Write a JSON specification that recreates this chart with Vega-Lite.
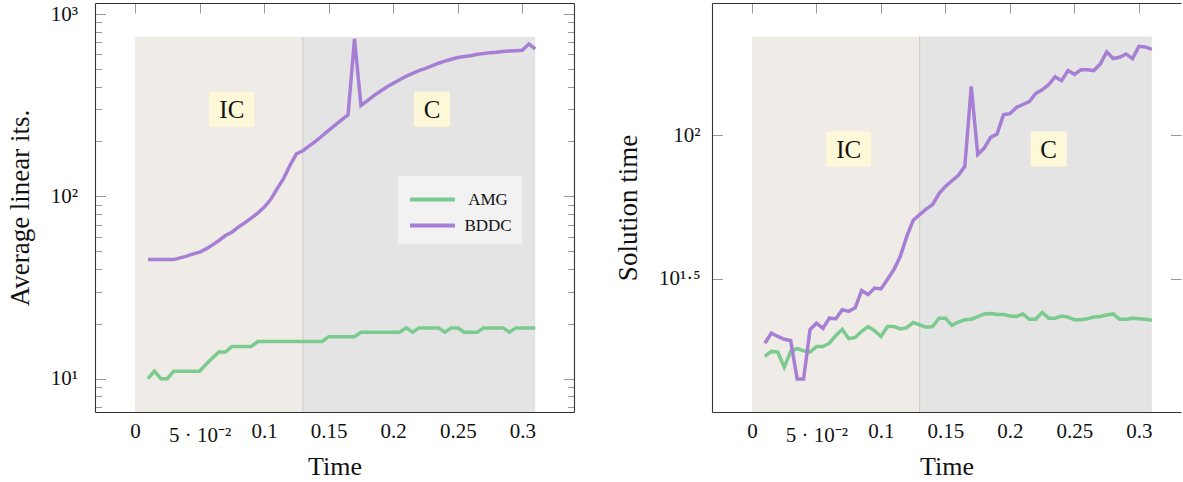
{
  "$schema": "https://vega.github.io/schema/vega-lite/v6.json",
  "padding": {"left": 6, "top": 2, "right": 0, "bottom": 0},
  "autosize": {"type": "pad"},
  "spacing": 39,
  "config": {
    "view": {"stroke": null},
    "font": "Liberation Serif",
    "axis": {"zindex": 1, "grid": false, "domainColor": "#333333", "domainWidth": 1.1, "tickColor": "#999999", "tickWidth": 1, "labelFont": "Liberation Serif", "labelFontSize": 21, "labelColor": "#111111", "titleFont": "Liberation Serif", "titleFontSize": 26, "titleFontWeight": "normal", "titleColor": "#111111", "labelOverlap": false, "labelFlush": false, "labelBound": false},
    "legend": {"orient": "none", "title": null, "fillColor": "#f2f2f2", "padding": 10, "symbolType": "M-2,0H2", "symbolSize": 506, "symbolStrokeWidth": 4, "symbolOffset": 11, "labelFont": "Liberation Serif", "labelFontSize": 17, "labelColor": "#111111", "labelOffset": 42, "labelAlign": "center", "rowPadding": 4}
  },
  "datasets": {
    "regionsL": [
      {"region": "IC", "t0": 0, "t1": 0.13, "top": 748},
      {"region": "C", "t0": 0.13, "t1": 0.31, "top": 748}
    ],
    "regionsR": [
      {"region": "IC", "t0": 0, "t1": 0.13, "top": 221},
      {"region": "C", "t0": 0.13, "t1": 0.31, "top": 221}
    ],
    "labelsL": [
      {"label": "IC", "t": 0.075, "v": 300},
      {"label": "C", "t": 0.23, "v": 300}
    ],
    "labelsR": [
      {"label": "IC", "t": 0.075, "v": 89.7},
      {"label": "C", "t": 0.23, "v": 89.7}
    ],
    "linesL": [
      {"series": "AMG", "t": 0.01, "v": 10}, {"series": "AMG", "t": 0.015, "v": 11}, {"series": "AMG", "t": 0.02, "v": 10}, {"series": "AMG", "t": 0.025, "v": 10},
      {"series": "AMG", "t": 0.03, "v": 11}, {"series": "AMG", "t": 0.035, "v": 11}, {"series": "AMG", "t": 0.04, "v": 11}, {"series": "AMG", "t": 0.045, "v": 11},
      {"series": "AMG", "t": 0.05, "v": 11}, {"series": "AMG", "t": 0.055, "v": 12}, {"series": "AMG", "t": 0.06, "v": 13}, {"series": "AMG", "t": 0.065, "v": 14},
      {"series": "AMG", "t": 0.07, "v": 14}, {"series": "AMG", "t": 0.075, "v": 15}, {"series": "AMG", "t": 0.08, "v": 15}, {"series": "AMG", "t": 0.085, "v": 15},
      {"series": "AMG", "t": 0.09, "v": 15}, {"series": "AMG", "t": 0.095, "v": 16}, {"series": "AMG", "t": 0.1, "v": 16}, {"series": "AMG", "t": 0.105, "v": 16},
      {"series": "AMG", "t": 0.11, "v": 16}, {"series": "AMG", "t": 0.115, "v": 16}, {"series": "AMG", "t": 0.12, "v": 16}, {"series": "AMG", "t": 0.125, "v": 16},
      {"series": "AMG", "t": 0.13, "v": 16}, {"series": "AMG", "t": 0.135, "v": 16}, {"series": "AMG", "t": 0.14, "v": 16}, {"series": "AMG", "t": 0.145, "v": 16},
      {"series": "AMG", "t": 0.15, "v": 17}, {"series": "AMG", "t": 0.155, "v": 17}, {"series": "AMG", "t": 0.16, "v": 17}, {"series": "AMG", "t": 0.165, "v": 17},
      {"series": "AMG", "t": 0.17, "v": 17}, {"series": "AMG", "t": 0.175, "v": 18}, {"series": "AMG", "t": 0.18, "v": 18}, {"series": "AMG", "t": 0.185, "v": 18},
      {"series": "AMG", "t": 0.19, "v": 18}, {"series": "AMG", "t": 0.195, "v": 18}, {"series": "AMG", "t": 0.2, "v": 18}, {"series": "AMG", "t": 0.205, "v": 18},
      {"series": "AMG", "t": 0.21, "v": 19}, {"series": "AMG", "t": 0.215, "v": 18}, {"series": "AMG", "t": 0.22, "v": 19}, {"series": "AMG", "t": 0.225, "v": 19},
      {"series": "AMG", "t": 0.23, "v": 19}, {"series": "AMG", "t": 0.235, "v": 19}, {"series": "AMG", "t": 0.24, "v": 18}, {"series": "AMG", "t": 0.245, "v": 19},
      {"series": "AMG", "t": 0.25, "v": 19}, {"series": "AMG", "t": 0.255, "v": 18}, {"series": "AMG", "t": 0.26, "v": 18}, {"series": "AMG", "t": 0.265, "v": 18},
      {"series": "AMG", "t": 0.27, "v": 19}, {"series": "AMG", "t": 0.275, "v": 19}, {"series": "AMG", "t": 0.28, "v": 19}, {"series": "AMG", "t": 0.285, "v": 19},
      {"series": "AMG", "t": 0.29, "v": 18}, {"series": "AMG", "t": 0.295, "v": 19}, {"series": "AMG", "t": 0.3, "v": 19}, {"series": "AMG", "t": 0.305, "v": 19},
      {"series": "AMG", "t": 0.31, "v": 19},
      {"series": "BDDC", "t": 0.01, "v": 45}, {"series": "BDDC", "t": 0.015, "v": 45}, {"series": "BDDC", "t": 0.02, "v": 45}, {"series": "BDDC", "t": 0.025, "v": 45},
      {"series": "BDDC", "t": 0.03, "v": 45}, {"series": "BDDC", "t": 0.035, "v": 46}, {"series": "BDDC", "t": 0.04, "v": 47}, {"series": "BDDC", "t": 0.045, "v": 48.4},
      {"series": "BDDC", "t": 0.05, "v": 49.4}, {"series": "BDDC", "t": 0.055, "v": 51.5}, {"series": "BDDC", "t": 0.06, "v": 54.2}, {"series": "BDDC", "t": 0.065, "v": 57.3},
      {"series": "BDDC", "t": 0.07, "v": 61}, {"series": "BDDC", "t": 0.075, "v": 63.6}, {"series": "BDDC", "t": 0.08, "v": 67.8}, {"series": "BDDC", "t": 0.085, "v": 71.6},
      {"series": "BDDC", "t": 0.09, "v": 76}, {"series": "BDDC", "t": 0.095, "v": 81}, {"series": "BDDC", "t": 0.1, "v": 87}, {"series": "BDDC", "t": 0.105, "v": 96},
      {"series": "BDDC", "t": 0.11, "v": 110}, {"series": "BDDC", "t": 0.115, "v": 125}, {"series": "BDDC", "t": 0.12, "v": 148}, {"series": "BDDC", "t": 0.125, "v": 171},
      {"series": "BDDC", "t": 0.13, "v": 178}, {"series": "BDDC", "t": 0.135, "v": 189}, {"series": "BDDC", "t": 0.14, "v": 201}, {"series": "BDDC", "t": 0.145, "v": 215},
      {"series": "BDDC", "t": 0.15, "v": 230}, {"series": "BDDC", "t": 0.155, "v": 246}, {"series": "BDDC", "t": 0.16, "v": 263}, {"series": "BDDC", "t": 0.165, "v": 280},
      {"series": "BDDC", "t": 0.17, "v": 730}, {"series": "BDDC", "t": 0.175, "v": 315}, {"series": "BDDC", "t": 0.18, "v": 335}, {"series": "BDDC", "t": 0.185, "v": 357},
      {"series": "BDDC", "t": 0.19, "v": 377}, {"series": "BDDC", "t": 0.195, "v": 398}, {"series": "BDDC", "t": 0.2, "v": 417}, {"series": "BDDC", "t": 0.205, "v": 436},
      {"series": "BDDC", "t": 0.21, "v": 456}, {"series": "BDDC", "t": 0.215, "v": 473}, {"series": "BDDC", "t": 0.22, "v": 489}, {"series": "BDDC", "t": 0.225, "v": 504},
      {"series": "BDDC", "t": 0.23, "v": 519}, {"series": "BDDC", "t": 0.235, "v": 537}, {"series": "BDDC", "t": 0.24, "v": 551}, {"series": "BDDC", "t": 0.245, "v": 565},
      {"series": "BDDC", "t": 0.25, "v": 577}, {"series": "BDDC", "t": 0.255, "v": 584}, {"series": "BDDC", "t": 0.26, "v": 591}, {"series": "BDDC", "t": 0.265, "v": 602},
      {"series": "BDDC", "t": 0.27, "v": 607}, {"series": "BDDC", "t": 0.275, "v": 614}, {"series": "BDDC", "t": 0.28, "v": 617}, {"series": "BDDC", "t": 0.285, "v": 623},
      {"series": "BDDC", "t": 0.29, "v": 626}, {"series": "BDDC", "t": 0.295, "v": 629}, {"series": "BDDC", "t": 0.3, "v": 632}, {"series": "BDDC", "t": 0.305, "v": 685},
      {"series": "BDDC", "t": 0.31, "v": 643}
    ],
    "linesR": [
      {"series": "AMG", "t": 0.01, "v": 17.0}, {"series": "AMG", "t": 0.015, "v": 17.7}, {"series": "AMG", "t": 0.02, "v": 17.6}, {"series": "AMG", "t": 0.025, "v": 15.6},
      {"series": "AMG", "t": 0.03, "v": 17.7}, {"series": "AMG", "t": 0.035, "v": 18.1}, {"series": "AMG", "t": 0.04, "v": 17.8}, {"series": "AMG", "t": 0.045, "v": 17.6},
      {"series": "AMG", "t": 0.05, "v": 18.4}, {"series": "AMG", "t": 0.055, "v": 18.4}, {"series": "AMG", "t": 0.06, "v": 18.9}, {"series": "AMG", "t": 0.065, "v": 20.1},
      {"series": "AMG", "t": 0.07, "v": 21.1}, {"series": "AMG", "t": 0.075, "v": 19.6}, {"series": "AMG", "t": 0.08, "v": 19.8}, {"series": "AMG", "t": 0.085, "v": 20.8},
      {"series": "AMG", "t": 0.09, "v": 21.6}, {"series": "AMG", "t": 0.095, "v": 20.9}, {"series": "AMG", "t": 0.1, "v": 19.95}, {"series": "AMG", "t": 0.105, "v": 21.6},
      {"series": "AMG", "t": 0.11, "v": 21.6}, {"series": "AMG", "t": 0.115, "v": 21.2}, {"series": "AMG", "t": 0.12, "v": 21.4}, {"series": "AMG", "t": 0.125, "v": 22.3},
      {"series": "AMG", "t": 0.13, "v": 21.9}, {"series": "AMG", "t": 0.135, "v": 21.5}, {"series": "AMG", "t": 0.14, "v": 21.6}, {"series": "AMG", "t": 0.145, "v": 23.1},
      {"series": "AMG", "t": 0.15, "v": 23.1}, {"series": "AMG", "t": 0.155, "v": 21.8}, {"series": "AMG", "t": 0.16, "v": 22.4}, {"series": "AMG", "t": 0.165, "v": 22.8},
      {"series": "AMG", "t": 0.17, "v": 22.9}, {"series": "AMG", "t": 0.175, "v": 23.4}, {"series": "AMG", "t": 0.18, "v": 23.9}, {"series": "AMG", "t": 0.185, "v": 24.0},
      {"series": "AMG", "t": 0.19, "v": 23.8}, {"series": "AMG", "t": 0.195, "v": 23.8}, {"series": "AMG", "t": 0.2, "v": 23.5}, {"series": "AMG", "t": 0.205, "v": 23.4},
      {"series": "AMG", "t": 0.21, "v": 23.9}, {"series": "AMG", "t": 0.215, "v": 22.9}, {"series": "AMG", "t": 0.22, "v": 22.9}, {"series": "AMG", "t": 0.225, "v": 24.2},
      {"series": "AMG", "t": 0.23, "v": 23.1}, {"series": "AMG", "t": 0.235, "v": 23.1}, {"series": "AMG", "t": 0.24, "v": 23.5}, {"series": "AMG", "t": 0.245, "v": 23.3},
      {"series": "AMG", "t": 0.25, "v": 22.8}, {"series": "AMG", "t": 0.255, "v": 22.8}, {"series": "AMG", "t": 0.26, "v": 23.0}, {"series": "AMG", "t": 0.265, "v": 23.3},
      {"series": "AMG", "t": 0.27, "v": 23.4}, {"series": "AMG", "t": 0.275, "v": 23.7}, {"series": "AMG", "t": 0.28, "v": 23.9}, {"series": "AMG", "t": 0.285, "v": 22.9},
      {"series": "AMG", "t": 0.29, "v": 22.9}, {"series": "AMG", "t": 0.295, "v": 23.1}, {"series": "AMG", "t": 0.3, "v": 23.0}, {"series": "AMG", "t": 0.305, "v": 22.9},
      {"series": "AMG", "t": 0.31, "v": 22.7},
      {"series": "BDDC", "t": 0.01, "v": 18.9}, {"series": "BDDC", "t": 0.015, "v": 20.5}, {"series": "BDDC", "t": 0.02, "v": 19.95}, {"series": "BDDC", "t": 0.025, "v": 19.5},
      {"series": "BDDC", "t": 0.03, "v": 19.3}, {"series": "BDDC", "t": 0.035, "v": 14.2}, {"series": "BDDC", "t": 0.04, "v": 14.2}, {"series": "BDDC", "t": 0.045, "v": 21.1},
      {"series": "BDDC", "t": 0.05, "v": 22.2}, {"series": "BDDC", "t": 0.055, "v": 21.3}, {"series": "BDDC", "t": 0.06, "v": 23.1}, {"series": "BDDC", "t": 0.065, "v": 23.0},
      {"series": "BDDC", "t": 0.07, "v": 24.7}, {"series": "BDDC", "t": 0.075, "v": 24.4}, {"series": "BDDC", "t": 0.08, "v": 25.1}, {"series": "BDDC", "t": 0.085, "v": 28.8},
      {"series": "BDDC", "t": 0.09, "v": 27.9}, {"series": "BDDC", "t": 0.095, "v": 29.4}, {"series": "BDDC", "t": 0.1, "v": 29.2}, {"series": "BDDC", "t": 0.105, "v": 31.5},
      {"series": "BDDC", "t": 0.11, "v": 34.1}, {"series": "BDDC", "t": 0.115, "v": 37.9}, {"series": "BDDC", "t": 0.12, "v": 44.5}, {"series": "BDDC", "t": 0.125, "v": 50.6},
      {"series": "BDDC", "t": 0.13, "v": 53.0}, {"series": "BDDC", "t": 0.135, "v": 55.4}, {"series": "BDDC", "t": 0.14, "v": 57.4}, {"series": "BDDC", "t": 0.145, "v": 62.7},
      {"series": "BDDC", "t": 0.15, "v": 66.4}, {"series": "BDDC", "t": 0.155, "v": 69.5}, {"series": "BDDC", "t": 0.16, "v": 72.6}, {"series": "BDDC", "t": 0.165, "v": 78},
      {"series": "BDDC", "t": 0.17, "v": 148}, {"series": "BDDC", "t": 0.175, "v": 85.8}, {"series": "BDDC", "t": 0.18, "v": 90.3}, {"series": "BDDC", "t": 0.185, "v": 98.4},
      {"series": "BDDC", "t": 0.19, "v": 101}, {"series": "BDDC", "t": 0.195, "v": 118}, {"series": "BDDC", "t": 0.2, "v": 119}, {"series": "BDDC", "t": 0.205, "v": 125},
      {"series": "BDDC", "t": 0.21, "v": 128}, {"series": "BDDC", "t": 0.215, "v": 131}, {"series": "BDDC", "t": 0.22, "v": 140}, {"series": "BDDC", "t": 0.225, "v": 144},
      {"series": "BDDC", "t": 0.23, "v": 150}, {"series": "BDDC", "t": 0.235, "v": 160}, {"series": "BDDC", "t": 0.24, "v": 155}, {"series": "BDDC", "t": 0.245, "v": 168},
      {"series": "BDDC", "t": 0.25, "v": 163}, {"series": "BDDC", "t": 0.255, "v": 169}, {"series": "BDDC", "t": 0.26, "v": 169}, {"series": "BDDC", "t": 0.265, "v": 168},
      {"series": "BDDC", "t": 0.27, "v": 177}, {"series": "BDDC", "t": 0.275, "v": 195}, {"series": "BDDC", "t": 0.28, "v": 185}, {"series": "BDDC", "t": 0.285, "v": 187},
      {"series": "BDDC", "t": 0.29, "v": 192}, {"series": "BDDC", "t": 0.295, "v": 185}, {"series": "BDDC", "t": 0.3, "v": 204}, {"series": "BDDC", "t": 0.305, "v": 203},
      {"series": "BDDC", "t": 0.31, "v": 199}
    ]
  },
  "hconcat": [
    {
      "width": 479,
      "height": 409,
      "resolve": {"axis": {"x": "independent", "y": "independent"}},
      "layer": [
        {
          "data": {"name": "regionsL"},
          "mark": {"type": "rect"},
          "encoding": {
            "x": {"field": "t0", "type": "quantitative", "scale": {"domain": [-0.031, 0.34], "nice": false, "zero": false},
                  "axis": {"orient": "bottom", "values": [0, 0.05, 0.1, 0.15, 0.2, 0.25, 0.3], "labelExpr": "datum.value == 0.05 ? '5 · 10⁻²' : '' + datum.value", "tickSize": -10, "labelPadding": {"condition": {"test": "datum.value == 0.05", "value": 22}, "value": 18}, "title": "Time", "titlePadding": 8}},
            "x2": {"field": "t1"},
            "y": {"field": "top", "type": "quantitative", "scale": {"type": "log", "domain": [6.57, 1149], "nice": false},
                  "axis": {"orient": "left", "values": [7, 8, 9, 10, 20, 30, 40, 50, 60, 70, 80, 90, 100, 200, 300, 400, 500, 600, 700, 800, 900, 1000],
                           "labelExpr": "datum.value == 10 ? '10¹' : datum.value == 100 ? '10²' : datum.value == 1000 ? '10³' : ''",
                           "tickSize": {"condition": {"test": "datum.value == 10 || datum.value == 100 || datum.value == 1000", "value": -10.5}, "value": -6.5},
                           "labelPadding": 28, "title": "Average linear its.", "titleFontSize": 27, "titlePadding": 16}},
            "y2": {"value": "height"},
            "fill": {"field": "region", "type": "nominal", "scale": {"domain": ["IC", "C"], "range": ["#efebe6", "#e4e4e4"]}, "legend": null}
          }
        },
        {
          "data": {"name": "regionsL"},
          "transform": [{"filter": "datum.region == 'C'"}],
          "mark": {"type": "rule", "stroke": "#cdcac6", "strokeWidth": 1},
          "encoding": {
            "x": {"field": "t0", "type": "quantitative", "scale": {"domain": [-0.031, 0.34], "nice": false, "zero": false}, "axis": null},
            "y": {"field": "top", "type": "quantitative", "scale": {"type": "log", "domain": [6.57, 1149], "nice": false}, "axis": null},
            "y2": {"value": "height"}
          }
        },
        {
          "data": {"name": "labelsL"},
          "transform": [{"filter": "datum.label == 'IC'"}],
          "mark": {"type": "rect", "fill": "#fdf9d8", "width": 45, "height": 35},
          "encoding": {
            "x": {"field": "t", "type": "quantitative", "scale": {"domain": [-0.031, 0.34], "nice": false, "zero": false}, "axis": null},
            "y": {"field": "v", "type": "quantitative", "scale": {"type": "log", "domain": [6.57, 1149], "nice": false}, "axis": null}
          }
        },
        {
          "data": {"name": "labelsL"},
          "transform": [{"filter": "datum.label == 'C'"}],
          "mark": {"type": "rect", "fill": "#fdf9d8", "width": 36, "height": 35},
          "encoding": {
            "x": {"field": "t", "type": "quantitative", "scale": {"domain": [-0.031, 0.34], "nice": false, "zero": false}, "axis": null},
            "y": {"field": "v", "type": "quantitative", "scale": {"type": "log", "domain": [6.57, 1149], "nice": false}, "axis": null}
          }
        },
        {
          "data": {"name": "labelsL"},
          "mark": {"type": "text", "fontSize": 25, "font": "Liberation Serif", "color": "#111111", "align": "center", "baseline": "middle", "dy": 1},
          "encoding": {
            "x": {"field": "t", "type": "quantitative", "scale": {"domain": [-0.031, 0.34], "nice": false, "zero": false}, "axis": null},
            "y": {"field": "v", "type": "quantitative", "scale": {"type": "log", "domain": [6.57, 1149], "nice": false}, "axis": null},
            "text": {"field": "label"}
          }
        },
        {
          "data": {"name": "linesL"},
          "mark": {"type": "line", "strokeWidth": 3.5},
          "encoding": {
            "x": {"field": "t", "type": "quantitative", "scale": {"domain": [-0.031, 0.34], "nice": false, "zero": false},
                  "axis": {"orient": "top", "values": [0, 0.05, 0.1, 0.15, 0.2, 0.25, 0.3], "labels": false, "tickSize": -10, "title": null}},
            "y": {"field": "v", "type": "quantitative", "scale": {"type": "log", "domain": [6.57, 1149], "nice": false},
                  "axis": {"orient": "right", "values": [7, 8, 9, 10, 20, 30, 40, 50, 60, 70, 80, 90, 100, 200, 300, 400, 500, 600, 700, 800, 900, 1000], "labels": false,
                           "tickSize": {"condition": {"test": "datum.value == 10 || datum.value == 100 || datum.value == 1000", "value": -10.5}, "value": -6.5}, "title": null}},
            "stroke": {"field": "series", "type": "nominal", "scale": {"domain": ["AMG", "BDDC"], "range": ["#7bca8e", "#a67fd5"]},
                       "legend": {"legendX": 303, "legendY": 173}}
          }
        }
      ]
    },
    {
      "width": 469,
      "height": 409,
      "resolve": {"axis": {"x": "independent", "y": "independent"}},
      "layer": [
        {
          "data": {"name": "regionsR"},
          "mark": {"type": "rect"},
          "encoding": {
            "x": {"field": "t0", "type": "quantitative", "scale": {"domain": [-0.031, 0.3326], "nice": false, "zero": false},
                  "axis": {"orient": "bottom", "values": [0, 0.05, 0.1, 0.15, 0.2, 0.25, 0.3], "labelExpr": "datum.value == 0.05 ? '5 · 10⁻²' : '' + datum.value", "tickSize": -10, "labelPadding": {"condition": {"test": "datum.value == 0.05", "value": 22}, "value": 18}, "title": "Time", "titlePadding": 8}},
            "x2": {"field": "t1"},
            "y": {"field": "top", "type": "quantitative", "scale": {"type": "log", "domain": [10.89, 288.8], "nice": false},
                  "axis": {"orient": "left", "values": [31.6227766, 100],
                           "labelExpr": "datum.value == 100 ? '10²' : '10¹·⁵'",
                           "tickSize": -10.5, "labelPadding": 22.5, "title": "Solution time", "titleFontSize": 27, "titlePadding": 16}},
            "y2": {"value": "height"},
            "fill": {"field": "region", "type": "nominal", "scale": {"domain": ["IC", "C"], "range": ["#efebe6", "#e4e4e4"]}, "legend": null}
          }
        },
        {
          "data": {"name": "regionsR"},
          "transform": [{"filter": "datum.region == 'C'"}],
          "mark": {"type": "rule", "stroke": "#cdcac6", "strokeWidth": 1},
          "encoding": {
            "x": {"field": "t0", "type": "quantitative", "scale": {"domain": [-0.031, 0.3326], "nice": false, "zero": false}, "axis": null},
            "y": {"field": "top", "type": "quantitative", "scale": {"type": "log", "domain": [10.89, 288.8], "nice": false}, "axis": null},
            "y2": {"value": "height"}
          }
        },
        {
          "data": {"name": "labelsR"},
          "transform": [{"filter": "datum.label == 'IC'"}],
          "mark": {"type": "rect", "fill": "#fdf9d8", "width": 45, "height": 35},
          "encoding": {
            "x": {"field": "t", "type": "quantitative", "scale": {"domain": [-0.031, 0.3326], "nice": false, "zero": false}, "axis": null},
            "y": {"field": "v", "type": "quantitative", "scale": {"type": "log", "domain": [10.89, 288.8], "nice": false}, "axis": null}
          }
        },
        {
          "data": {"name": "labelsR"},
          "transform": [{"filter": "datum.label == 'C'"}],
          "mark": {"type": "rect", "fill": "#fdf9d8", "width": 36, "height": 35},
          "encoding": {
            "x": {"field": "t", "type": "quantitative", "scale": {"domain": [-0.031, 0.3326], "nice": false, "zero": false}, "axis": null},
            "y": {"field": "v", "type": "quantitative", "scale": {"type": "log", "domain": [10.89, 288.8], "nice": false}, "axis": null}
          }
        },
        {
          "data": {"name": "labelsR"},
          "mark": {"type": "text", "fontSize": 25, "font": "Liberation Serif", "color": "#111111", "align": "center", "baseline": "middle", "dy": 1},
          "encoding": {
            "x": {"field": "t", "type": "quantitative", "scale": {"domain": [-0.031, 0.3326], "nice": false, "zero": false}, "axis": null},
            "y": {"field": "v", "type": "quantitative", "scale": {"type": "log", "domain": [10.89, 288.8], "nice": false}, "axis": null},
            "text": {"field": "label"}
          }
        },
        {
          "data": {"name": "linesR"},
          "mark": {"type": "line", "strokeWidth": 3.5},
          "encoding": {
            "x": {"field": "t", "type": "quantitative", "scale": {"domain": [-0.031, 0.3326], "nice": false, "zero": false},
                  "axis": {"orient": "top", "values": [0, 0.05, 0.1, 0.15, 0.2, 0.25, 0.3], "labels": false, "tickSize": -10, "title": null}},
            "y": {"field": "v", "type": "quantitative", "scale": {"type": "log", "domain": [10.89, 288.8], "nice": false},
                  "axis": {"orient": "right", "values": [31.6227766, 100], "labels": false, "domain": false, "tickSize": -10.5, "title": null}},
            "stroke": {"field": "series", "type": "nominal", "scale": {"domain": ["AMG", "BDDC"], "range": ["#7bca8e", "#a67fd5"]},
                       "legend": {"legendX": 304, "legendY": 204}}
          }
        }
      ]
    }
  ]
}
